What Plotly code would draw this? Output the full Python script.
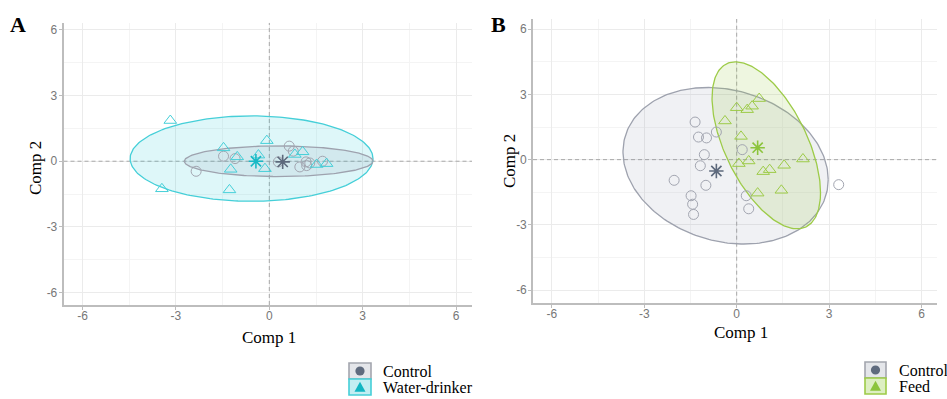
import numpy as np
import plotly.graph_objects as go

W, H = 947, 399

# ---------------- data ----------------
tick_vals = [-6, -3, 0, 3, 6]
tick_text = ["-6", "-3", "0", "3", "6"]

# Panel A
A_control_x = [-2.35, -1.47, -1.10, 0.64, 0.77, 0.29, 0.98, 1.18, 1.30, 1.71, 1.20]
A_control_y = [-0.46, 0.23, 0.12, 0.69, 0.46, -0.03, -0.26, -0.03, -0.08, 0.00, -0.20]
A_water_x = [-3.18, -3.45, -1.47, -1.03, -1.24, -1.28, -0.08, -0.35, -0.14, 1.07, 0.82, 1.84, 1.52]
A_water_y = [1.86, -1.26, 0.61, 0.20, -0.37, -1.31, 0.94, 0.28, -0.34, 0.43, 0.31, -0.11, -0.15]
A_centroid_control = (0.43, -0.03)
A_centroid_water = (-0.43, 0.00)
# ellipse: center x, center y, var x, var y, cov xy
A_ell_control = (0.30, 0.00, 3.03 ** 2, 0.70 ** 2, 0.0)
A_ell_water = (-0.57, 0.12, 3.90 ** 2, 1.95 ** 2, 0.0)

# Panel B
B_control_x = [-1.35, -1.24, -0.98, -0.66, 0.18, -1.05, -1.18, -2.03, -1.00, -1.48, -1.43, -1.40, 0.31, 0.39, 3.31]
B_control_y = [1.73, 1.04, 1.00, 1.27, 0.46, 0.23, -0.28, -0.95, -1.18, -1.66, -2.05, -2.52, -1.66, -2.26, -1.15]
B_feed_x = [0.73, 0.50, 0.34, 0.00, -0.38, 0.14, 0.07, 0.39, 0.86, 1.07, 1.54, 2.15, 0.68, 1.45]
B_feed_y = [2.81, 2.46, 2.30, 2.39, 1.78, 1.07, -0.18, -0.06, -0.55, -0.46, -0.26, 0.03, -1.54, -1.41]
B_centroid_control = (-0.66, -0.52)
B_centroid_feed = (0.68, 0.55)
B_ell_control = (-0.36, -0.28, 3.33 ** 2, 3.60 ** 2, -2.12)
B_ell_feed = (0.96, 0.66, 1.76 ** 2, 3.84 ** 2, -3.84)

# axis ranges
A_xrange = [-6.61, 6.51]
A_yrange = [-6.57, 6.33]
B_xrange = [-6.61, 6.50]
B_yrange = [-6.58, 6.47]

# ---------------- styles ----------------
C_GRAY_PT = "#a2a5b0"
C_GRAY_LINE = "#9ea2ae"
C_GRAY_FILL = "rgba(110,120,150,0.10)"
C_GRAY_CEN = "#5d697c"
C_CYAN = "#45cfd8"
C_CYAN_FILL = "rgba(0,195,210,0.13)"
C_CYAN_CEN = "#19b9c5"
C_GREEN = "#9dcb48"
C_GREEN_FILL = "rgba(150,200,60,0.16)"
C_GREEN_CEN = "#8cc43c"

SERIF = "Liberation Serif"
SANS = "Liberation Sans"


def ellipse(params, n=240):
    cx, cy, vx, vy, cxy = params
    L = np.linalg.cholesky(np.array([[vx, cxy], [cxy, vy]]))
    t = np.linspace(0, 2 * np.pi, n)
    pts = L @ np.vstack([np.cos(t), np.sin(t)])
    return cx + pts[0], cy + pts[1]


fig = go.Figure()


def add_panel(xa, ya, xr, yr, ells, pts, cents):
    dash_line = dict(color="#a8a8a8", width=1, dash="4px,3px")
    fig.add_trace(go.Scatter(x=[0, 0], y=yr, mode="lines", line=dash_line,
                             xaxis=xa, yaxis=ya, hoverinfo="skip", showlegend=False))
    fig.add_trace(go.Scatter(x=xr, y=[0, 0], mode="lines", line=dash_line,
                             xaxis=xa, yaxis=ya, hoverinfo="skip", showlegend=False))
    for params, lc, fc in ells:
        ex, ey = ellipse(params)
        fig.add_trace(go.Scatter(x=ex, y=ey, mode="lines", fill="toself",
                                 fillcolor=fc, line=dict(color=lc, width=1.3),
                                 xaxis=xa, yaxis=ya, hoverinfo="skip", showlegend=False))
    for xs, ys, sym, col, size in pts:
        fig.add_trace(go.Scatter(x=xs, y=ys, mode="markers",
                                 marker=dict(symbol=sym, size=size, color=col,
                                             line=dict(color=col, width=1)),
                                 xaxis=xa, yaxis=ya, showlegend=False))
    for (cx, cy), col in cents:
        fig.add_trace(go.Scatter(x=[cx], y=[cy], mode="markers",
                                 marker=dict(symbol="asterisk-open", size=12, color=col,
                                             line=dict(color=col, width=1.6)),
                                 xaxis=xa, yaxis=ya, showlegend=False))


add_panel("x", "y", A_xrange, A_yrange,
          [(A_ell_water, C_CYAN, C_CYAN_FILL), (A_ell_control, C_GRAY_LINE, C_GRAY_FILL)],
          [(A_control_x, A_control_y, "circle-open", C_GRAY_PT, 10),
           (A_water_x, A_water_y, "triangle-up-open", C_CYAN, 11)],
          [(A_centroid_control, C_GRAY_CEN), (A_centroid_water, C_CYAN_CEN)])

add_panel("x2", "y2", B_xrange, B_yrange,
          [(B_ell_control, C_GRAY_LINE, C_GRAY_FILL), (B_ell_feed, C_GREEN, C_GREEN_FILL)],
          [(B_control_x, B_control_y, "circle-open", C_GRAY_PT, 10),
           (B_feed_x, B_feed_y, "triangle-up-open", C_GREEN, 11)],
          [(B_centroid_control, C_GRAY_CEN), (B_centroid_feed, C_GREEN_CEN)])


def px_x(p):
    return p / W


def px_y(p):
    return 1 - p / H


def axis_common(standoff):
    return dict(tickmode="array", tickvals=tick_vals, ticktext=tick_text,
                showgrid=True, gridcolor="#ebebeb", gridwidth=1,
                minor=dict(tickmode="array", tickvals=[-4.5, -1.5, 1.5, 4.5],
                           showgrid=True, gridcolor="#f4f4f4", gridwidth=1, ticks=""),
                showline=True, linecolor="#bdbdbd", linewidth=1.6,
                ticks="outside", ticklen=3, tickwidth=1, tickcolor="#bdbdbd",
                ticklabelstandoff=standoff,
                tickfont=dict(family=SANS, size=12, color="#777777"),
                zeroline=False, mirror=False, fixedrange=True)


fig.update_layout(
    width=W, height=H, margin=dict(l=0, r=0, t=0, b=0),
    paper_bgcolor="white", plot_bgcolor="white", showlegend=False,
    xaxis=dict(domain=[px_x(63.5), px_x(472)], range=A_xrange, anchor="y", **axis_common(-4)),
    yaxis=dict(domain=[px_y(305), px_y(22.7)], range=A_yrange, anchor="x", **axis_common(-1)),
    xaxis2=dict(domain=[px_x(533), px_x(937)], range=B_xrange, anchor="y2", **axis_common(-4)),
    yaxis2=dict(domain=[px_y(302.7), px_y(19)], range=B_yrange, anchor="x2", **axis_common(-1)),
)

shapes = []
annotations = []


def ann(text, x, y, size, bold=False, xanchor="center", angle=0, family=SERIF):
    annotations.append(dict(text=("<b>%s</b>" % text) if bold else text,
                            x=px_x(x), y=px_y(y), xref="paper", yref="paper",
                            xanchor=xanchor, yanchor="middle", showarrow=False,
                            textangle=angle, font=dict(family=family, size=size, color="black")))


ann("A", 18, 25, 22, bold=True)
ann("B", 498, 25, 22, bold=True)
ann("Comp 1", 269, 337, 17)
ann("Comp 2", 35, 168, 17, angle=-90)
ann("Comp 1", 741, 332, 17)
ann("Comp 2", 510, 161, 17, angle=-90)


def legend(x0, x1, y0, labels, tx):
    h = 16
    for i, (lab, border, fill, mcol, kind) in enumerate(labels):
        ya, yb = y0 + i * h, y0 + (i + 1) * h
        shapes.append(dict(type="rect", xref="paper", yref="paper",
                           x0=px_x(x0), x1=px_x(x1), y0=px_y(yb), y1=px_y(ya),
                           line=dict(color=border, width=1.6), fillcolor=fill, layer="above"))
        cx, cy = (x0 + x1) / 2, (ya + yb) / 2
        if kind == "circle":
            r = 4.6
            shapes.append(dict(type="circle", xref="paper", yref="paper",
                               x0=px_x(cx - r), x1=px_x(cx + r), y0=px_y(cy + r), y1=px_y(cy - r),
                               line=dict(color=mcol, width=0), fillcolor=mcol, layer="above"))
        else:
            s = 5.5
            path = "M %f %f L %f %f L %f %f Z" % (px_x(cx - s), px_y(cy + 4.8),
                                                    px_x(cx + s), px_y(cy + 4.8),
                                                    px_x(cx), px_y(cy - 5.2))
            shapes.append(dict(type="path", xref="paper", yref="paper", path=path,
                               line=dict(color=mcol, width=0), fillcolor=mcol, layer="above"))
        ann(lab, tx, cy + 0.5, 16, xanchor="left")


legend(349, 371, 363, [("Control", "#a3a6ae", "#e4e6ea", "#5f6b7e", "circle"),
                       ("Water-drinker", "#45cfd8", "#c2eef2", "#12b6c2", "tri")], 381)
legend(865, 886, 362, [("Control", "#a3a6ae", "#e4e6ea", "#5f6b7e", "circle"),
                       ("Feed", "#9dcb48", "#ddefc2", "#8cc43c", "tri")], 897)

fig.update_layout(shapes=shapes, annotations=annotations)
fig.write_html("out.html")
